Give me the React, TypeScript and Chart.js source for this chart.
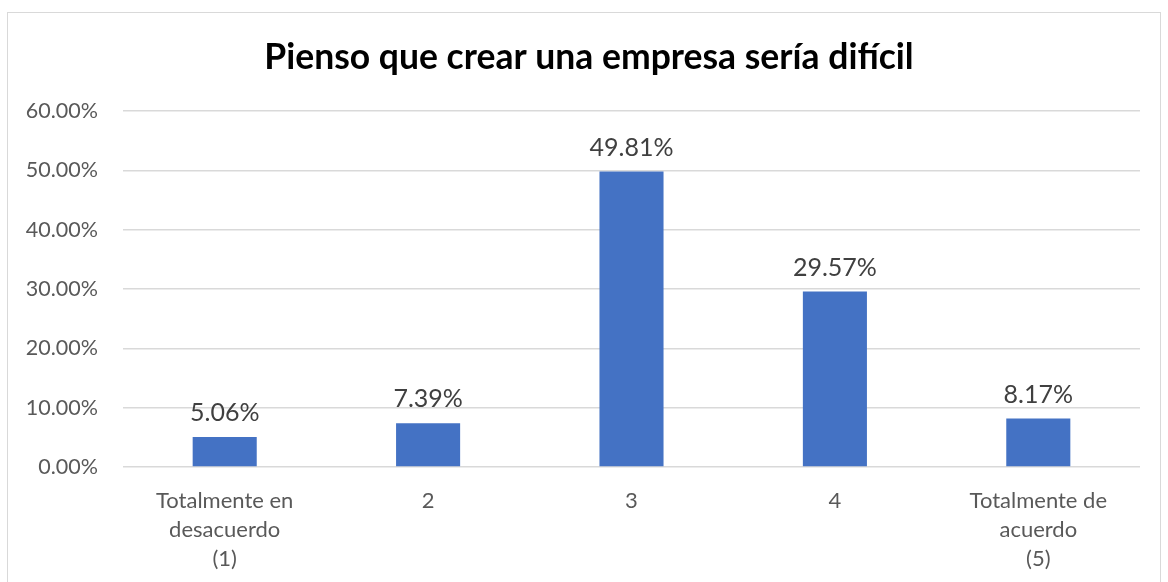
import React, { useEffect, useRef } from "react";
import { Chart, registerables } from "chart.js";

Chart.register(...registerables);

const categories: string[][] = [
  ["Totalmente en", "desacuerdo", "(1)"],
  ["2"],
  ["3"],
  ["4"],
  ["Totalmente de", "acuerdo", "(5)"],
];
const values: number[] = [5.06, 7.39, 49.81, 29.57, 8.17];
const yTicks: number[] = [0, 10, 20, 30, 40, 50, 60];
const titleText = "Pienso que crear una empresa sería difícil";

const FONT = "Lato, 'Open Sans', sans-serif";

const labelPlugin = {
  id: "barLabels",
  afterDatasetsDraw(chart: any) {
    const ctx = chart.ctx;
    const meta = chart.getDatasetMeta(0);
    ctx.save();
    ctx.font = `25px ${FONT}`;
    ctx.fillStyle = "#404040";
    ctx.textAlign = "center";
    ctx.textBaseline = "middle";
    meta.data.forEach((bar: any, i: number) => {
      ctx.fillText(values[i].toFixed(2) + "%", bar.x, bar.y - 24);
    });
    ctx.restore();
  },
};

const titlePlugin = {
  id: "customTitle",
  afterDraw(chart: any) {
    const ctx = chart.ctx;
    ctx.save();
    ctx.font = `bold 35.5px ${FONT}`;
    ctx.fillStyle = "#000000";
    ctx.textAlign = "center";
    ctx.textBaseline = "middle";
    ctx.fillText(titleText, 589, 58);
    ctx.restore();
  },
};

export default function App() {
  const ref = useRef<HTMLCanvasElement | null>(null);
  useEffect(() => {
    if (!ref.current) return;
    const chart = new Chart(ref.current, {
      type: "bar",
      data: {
        labels: categories,
        datasets: [
          {
            data: values,
            backgroundColor: "#4472C4",
            categoryPercentage: 1,
            barPercentage: 0.315,
          },
        ],
      },
      options: {
        animation: false,
        responsive: false,
        layout: { padding: { left: 0, right: 28, top: 111, bottom: 0 } },
        plugins: {
          legend: { display: false },
          tooltip: { enabled: false },
          title: { display: false },
        },
        scales: {
          x: {
            grid: { display: false, drawTicks: false },
            border: { display: false },
            ticks: {
              color: "#595959",
              font: { family: FONT, size: 22, lineHeight: 1.3 },
              padding: 20,
              maxRotation: 0,
              autoSkip: false,
            },
            afterFit: (s: any) => {
              s.height = 115;
            },
          },
          y: {
            min: 0,
            max: 60,
            afterBuildTicks: (s: any) => {
              s.ticks = yTicks.map((v) => ({ value: v }));
            },
            grid: { color: "#D9D9D9", drawTicks: false, lineWidth: 1.5 },
            border: { display: false },
            ticks: {
              color: "#595959",
              font: { family: FONT, size: 21.5 },
              padding: 25,
              callback: (v: any) => Number(v).toFixed(2) + "%",
            },
            afterFit: (s: any) => {
              s.width = 123;
            },
          },
        },
      },
      plugins: [labelPlugin, titlePlugin],
    });
    return () => chart.destroy();
  }, []);

  return (
    <div
      style={{
        position: "fixed",
        left: 0,
        top: 0,
        width: 1168,
        height: 582,
        background: "#ffffff",
        overflow: "hidden",
      }}
    >
      <div
        style={{
          position: "absolute",
          left: 7,
          top: 12,
          width: 1154,
          height: 600,
          border: "1.5px solid #D9D9D9",
          boxSizing: "border-box",
        }}
      />
      <canvas
        ref={ref}
        width={1168}
        height={582}
        style={{ position: "absolute", left: 0, top: 0, width: 1168, height: 582 }}
      />
    </div>
  );
}
